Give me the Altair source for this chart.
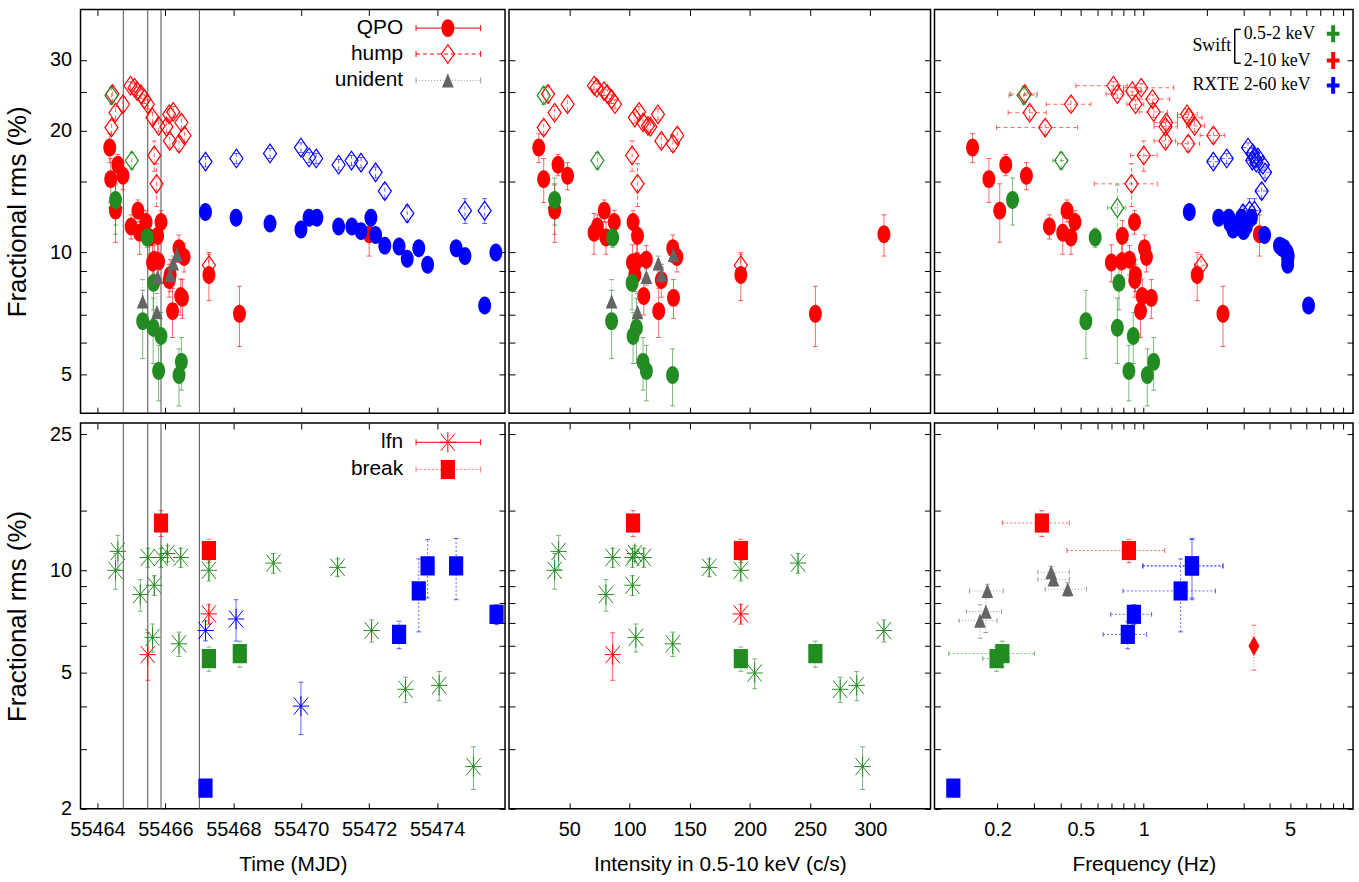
import json
import math
import altair as alt
import pandas as pd

# ===================== DATA =====================
# ---- Swift 2-10 keV : QPO ----
hard_qpo_mjd = [55464.36, 55464.39, 55464.60, 55464.75, 55464.53, 55464.99, 55465.19, 55465.24, 55465.43,
                55465.53, 55465.87, 55465.77, 55465.62, 55465.80, 55465.67, 55466.11, 55466.14, 55466.40,
                55466.55, 55466.21, 55466.50, 55466.45, 55467.28, 55468.18, 55472.00]
hard_qpo_cts = [24.7, 28.8, 40.7, 48.6, 37.9, 73.4, 79.1, 70.6, 87.4, 80.5, 103.0, 106.7, 102.5, 105.8,
                114.0, 126.5, 104.5, 136.0, 139.4, 124.3, 136.6, 111.9, 192.5, 254.4, 311.3]
hard_qpo_freq = [0.152, 0.182, 0.219, 0.275, 0.205, 0.354, 0.430, 0.410, 0.469, 0.449, 0.903, 0.790, 0.700,
                 0.784, 0.855, 0.906, 0.913, 1.008, 1.030, 0.965, 1.087, 0.983, 1.80, 2.39, 3.57]
hard_qpo_rms = [18.2, 15.2, 16.5, 15.5, 12.7, 11.6, 12.7, 11.2, 11.9, 10.9, 11.9, 11.0, 9.45, 9.5, 9.6,
                8.55, 8.8, 10.25, 9.75, 7.16, 7.72, 7.8, 8.8, 7.05, 11.1]
hard_qpo_err = [1.5, 1.9, 1.0, 1.2, 2.1, 0.8, 0.8, 1.3, 0.8, 1.0, 0.8, 1.0, 1.0, 1.0, 0.8, 0.8, 0.8, 0.8,
                0.8, 1.0, 0.85, 0.8, 1.2, 1.2, 1.3]

# ---- Swift 0.5-2 keV : QPO ----
soft_qpo_mjd = [55464.53, 55465.46, 55465.65, 55465.33, 55465.64, 55465.87, 55465.80, 55466.40, 55466.47]
soft_qpo_cts = [37.9, 86.1, 102.2, 85.2, 105.8, 103.0, 114.1, 135.8, 111.3]
soft_qpo_freq = [0.236, 0.586, 0.761, 0.529, 0.748, 0.891, 0.849, 1.04, 1.115]
soft_qpo_rms = [13.5, 10.9, 8.41, 6.76, 6.51, 6.21, 5.09, 4.97, 5.36]
soft_qpo_err = [1.8, 0.6, 1.2, 1.3, 1.2, 0.9, 0.8, 0.8, 0.8]

# ---- RXTE 2-60 keV : QPO ----
rxte_qpo_mjd = [55467.18, 55468.08, 55469.08, 55469.99, 55470.23, 55470.46, 55471.10, 55471.49, 55471.76,
                55472.05, 55472.19, 55472.46, 55472.88, 55473.12, 55473.46, 55473.72, 55474.56, 55474.82,
                55475.40, 55475.73]
rxte_qpo_freq = [1.65, 2.28, 2.58, 2.67, 2.93, 3.27, 3.09, 2.75, 3.00, 2.55, 3.78, 4.45, 4.55, 4.87, 4.70,
                 4.87, 4.60, 4.90, 6.13, 4.85]
rxte_qpo_rms = [12.6, 12.2, 11.8, 11.4, 12.2, 12.2, 11.6, 11.6, 11.3, 12.2, 11.05, 10.4, 10.35, 9.65, 10.25,
                9.33, 10.25, 9.8, 7.39, 10.0]
rxte_qpo_err = [0.3] * 20

# ---- Swift 2-10 keV : hump ----
hard_hump_mjd = [55464.41, 55464.53, 55464.44, 55464.75, 55464.97, 55465.09, 55465.17, 55465.28, 55465.38,
                 55465.48, 55465.62, 55465.80, 55466.03, 55466.11, 55466.23, 55466.47, 55466.13, 55466.40,
                 55466.56, 55465.67, 55465.74, 55467.28]
hard_hump_cts = [28.8, 37.9, 32.4, 48.6, 70.6, 72.9, 78.9, 81.6, 85.2, 88.0, 104.5, 115.4, 117.4, 123.7,
                 108.0, 111.3, 126.5, 136.1, 139.7, 102.2, 106.7, 192.5]
hard_hump_freq = [0.338, 0.285, 0.27, 0.449, 0.716, 0.972, 0.881, 0.748, 1.10, 0.913, 1.64, 1.75, 1.27,
                  1.61, 1.115, 1.28, 1.27, 1.63, 2.15, 1.00, 0.874, 1.88]
hard_hump_flo = [0.198, 0.225, 0.23, 0.342, 0.474, 0.80, 0.80, 0.66, 0.95, 0.83, 1.45, 1.60, 1.12, 1.45,
                 0.95, 1.12, 1.12, 1.45, 1.86, 0.865, 0.58, 1.75]
hard_hump_fhi = [0.483, 0.342, 0.31, 0.559, 0.834, 1.39, 0.97, 0.84, 1.33, 1.0, 1.90, 1.95, 1.45, 1.80,
                 1.30, 1.45, 1.42, 1.85, 2.44, 1.157, 1.16, 2.0]
hard_hump_rms = [20.4, 22.2, 24.7, 23.3, 25.9, 25.6, 25.1, 24.7, 24.0, 23.3, 21.6, 20.6, 20.5, 22.0, 22.3,
                 21.0, 18.9, 18.6, 19.5, 17.4, 14.8, 9.3]
hard_hump_err = [0.8, 0.8, 1.2, 0.9, 0.6, 0.6, 0.6, 0.6, 0.6, 0.6, 0.7, 0.7, 0.7, 0.7, 0.7, 0.8, 0.7, 0.8,
                 0.8, 1.5, 1.8, 0.6]

# ---- Swift 0.5-2 keV : hump ----
soft_hump_mjd = [55464.41, 55465.01, 55464.53]
soft_hump_cts = [28.8, 73.4, 37.9]
soft_hump_freq = [0.267, 0.403, 0.748]
soft_hump_flo = [0.227, 0.368, 0.67]
soft_hump_fhi = [0.306, 0.433, 0.82]
soft_hump_rms = [24.5, 16.9, 12.9]
soft_hump_err = [1.2, 0.8, 1.8]

# ---- RXTE 2-60 keV : hump ----
rxte_hump_mjd = [55467.18, 55468.09, 55469.08, 55469.99, 55470.23, 55470.44, 55471.10, 55471.48, 55471.76,
                 55472.19, 55472.46, 55473.12, 55474.82, 55475.40]
rxte_hump_freq = [2.15, 2.49, 3.32, 3.15, 3.51, 3.40, 3.71, 3.30, 3.45, 3.80, 3.66, 2.98, 3.38, 3.20]
rxte_hump_flo = [2.02, 2.34, 3.12, 2.96, 3.30, 3.20, 3.49, 3.10, 3.24, 3.57, 3.44, 2.80, 3.18, 3.01]
rxte_hump_fhi = [2.29, 2.65, 3.53, 3.35, 3.73, 3.61, 3.94, 3.51, 3.67, 4.04, 3.89, 3.17, 3.59, 3.40]
rxte_hump_rms = [16.8, 17.1, 17.6, 18.2, 17.2, 17.1, 16.5, 16.9, 16.7, 15.8, 14.2, 12.5, 12.7, 12.7]
rxte_hump_err = [0.5, 0.5, 0.5, 0.5, 0.5, 0.5, 0.5, 0.5, 0.5, 0.5, 0.6, 0.6, 0.9, 0.9]

# ---- unidentified features ----
unid_mjd = [55465.33, 55465.75, 55465.77, 55466.14, 55466.23, 55466.34]
unid_cts = [85.2, 106.7, 114.1, 126.7, 124.0, 136.6]
unid_freq = [0.176, 0.165, 0.179, 0.433, 0.370, 0.361]
unid_flo = [0.142, 0.131, 0.147, 0.338, 0.312, 0.312]
unid_fhi = [0.209, 0.199, 0.213, 0.533, 0.441, 0.441]
unid_rms = [7.57, 7.12, 8.7, 8.8, 9.4, 9.87]
unid_err = [1.0, 0.8, 0.4, 0.4, 0.4, 0.4]

# ---- low-frequency noise (lfn) ----
soft_lfn_mjd = [55464.53, 55464.60, 55465.26, 55465.48, 55465.67, 55465.87, 55466.06, 55466.45, 55465.62,
                55466.40, 55467.28, 55469.18, 55471.07, 55472.07, 55473.07, 55474.06, 55475.07, None]
soft_lfn_cts = [37.9, 41.2, 80.5, 86.1, 102.5, 102.5, 104.5, 111.9, 105.3, 136.0, 192.5, 240.0, 166.3,
                311.3, 275.0, 288.7, 293.6, 204.0]
soft_lfn_rms = [10.0, 11.36, 8.49, 10.9, 9.04, 10.9, 11.2, 10.9, 6.36, 6.09, 10.0, 10.5, 10.2, 6.66, 4.48,
                4.6, 2.66, 5.0]
soft_lfn_err = [1.2, 1.3, 0.9, 0.7, 0.6, 0.7, 0.6, 0.7, 0.6, 0.5, 0.7, 0.7, 0.6, 0.5, 0.38, 0.45, 0.38, 0.5]

hard_lfn_mjd = [55465.48, 55467.28]
hard_lfn_cts = [86.1, 192.5]
hard_lfn_rms = [5.66, 7.45]
hard_lfn_err = [0.9, 0.5]

rxte_lfn_mjd = [55467.18, 55468.08, 55469.99]
rxte_lfn_rms = [6.66, 7.2, 4.0]
rxte_lfn_err = [0.45, 1.0, 0.7]

# ---- break ----
soft_brk_mjd = [55467.28, 55468.19]
soft_brk_cts = [192.5, 254.4]
soft_brk_freq = [0.198, 0.211]
soft_brk_flo = [0.170, 0.117]
soft_brk_fhi = [0.227, 0.30]
soft_brk_rms = [5.51, 5.70]
soft_brk_err = [0.45, 0.5]

hard_brk_mjd = [55465.87, 55467.28]
hard_brk_cts = [103.0, 192.5]
hard_brk_freq = [0.326, 0.849]
hard_brk_flo = [0.211, 0.429]
hard_brk_fhi = [0.441, 1.26]
hard_brk_rms = [13.76, 11.43]
hard_brk_err = [1.2, 0.9]

rxte_brk_mjd = [55467.18, 55472.88, 55473.46, 55473.72, 55474.56, 55475.75]
rxte_brk_freq = [0.123, 0.839, 1.50, 1.70, 1.70, 0.897]
rxte_brk_flo = [None, 0.639, 0.795, 0.99, 0.99, 0.695]
rxte_brk_fhi = [None, 1.03, 2.2, 2.39, 2.39, 1.09]
rxte_brk_rms = [2.3, 6.49, 8.7, 10.3, 10.3, 7.43]
rxte_brk_err = [0.0, 0.6, 2.1, 2.0, 2.1, 0.5]

# ---- extra Swift 2-10 keV feature (frequency panel) ----
hard_extra_freq = [3.36]
hard_extra_rms = [6.0]
hard_extra_err = [0.9]

# vertical markers in the time panels
vline_mjd = [55464.76, 55465.48, 55465.87, 55467.0]

# axis ticks
time_ticks = [55464, 55466, 55468, 55470, 55472, 55474]
cts_ticks = [50, 100, 150, 200, 250, 300]
freq_ticks = [0.2, 0.3, 0.4, 0.5, 0.6, 0.7, 0.8, 0.9, 1, 2, 3, 4, 5, 6, 7, 8, 9]
freq_labels = [0.2, 0.5, 1, 5]
ytop_ticks = [5, 6, 7, 8, 9, 10, 15, 20, 25, 30]
ytop_labels = [5, 10, 20, 30]
ybot_ticks = [2, 3, 4, 5, 6, 7, 8, 9, 10, 15, 25]
ybot_labels = [2, 5, 10, 25]

# ===================== STYLE =====================
FONT = "Liberation Sans, Arial, sans-serif"
YFONT = "Liberation Sans, Arial, sans-serif"
SERIF = "Liberation Serif, Times New Roman, serif"

BANDS = ["hard", "soft", "rxte", "unid"]
BAND_COLORS = ["#ff0000", "#228b22", "#0000ff", "#646464"]
band_scale = alt.Scale(domain=BANDS, range=BAND_COLORS)
COL = dict(zip(BANDS, BAND_COLORS))


def _ellipse(rx, ry, n=28):
    pts = []
    for k in range(n):
        t = 2 * math.pi * k / n
        pts.append(f"{rx * math.cos(t):.3f},{ry * math.sin(t):.3f}")
    return "M" + "L".join(pts) + "Z"


ELLIPSE = _ellipse(0.72, 1.0)
DIAMOND = "M0,-1L0.7,0L0,1L-0.7,0Z"
FDIAMOND = "M0,-1L0.55,0L0,1L-0.55,0Z"
TRIANGLE = "M0,-1L0.82,1L-0.82,1Z"
RECT = "M-0.74,-1L0.74,-1L0.74,1L-0.74,1Z"
ASTER = "M0,-1L0,1M-0.8,0L0.8,0M-0.7,-0.85L0.7,0.85M-0.7,0.85L0.7,-0.85"
HCAP = "M-1,0L1,0"
VCAP = "M0,-1L0,1"
PLUS = "M-0.75,0L0.75,0M0,-1L0,1"

STYLE = {
    "hump": dict(shape=DIAMOND, filled=False, size=350, sw=1.2, dash=[4, 3]),
    "qpo": dict(shape=ELLIPSE, filled=True, size=324, sw=0, dash=None),
    "unid": dict(shape=TRIANGLE, filled=True, size=205, sw=0, dash=[1, 2]),
    "lfn": dict(shape=ASTER, filled=False, size=420, sw=1.0, dash=None),
    "break": dict(shape=RECT, filled=True, size=372, sw=0, dash=[2, 2]),
    "extra": dict(shape=FDIAMOND, filled=True, size=400, sw=0, dash=[1, 2]),
}

xs_time = alt.Scale(domain=[55463.5, 55476], nice=False, zero=False)
xs_cts = alt.Scale(domain=[0, 350], nice=False, zero=False)
xs_freq = alt.Scale(type="log", domain=[0.1, 10], nice=False)
ys_top = alt.Scale(type="log", domain=[4, 40], nice=False)
ys_bot = alt.Scale(type="log", domain=[2, 27], nice=False)


def rows(band, x, rms, err, xlo=None, xhi=None):
    out = []
    for i in range(len(rms)):
        if x[i] is None:
            continue
        r = {"x": x[i], "y": rms[i], "ylo": rms[i] - err[i], "yhi": rms[i] + err[i], "band": band}
        if xlo is not None and xlo[i] is not None:
            r["xlo"] = xlo[i]
            r["xhi"] = xhi[i]
        out.append(r)
    return out


def feat_layers(rws, feat, xs, ys):
    st = STYLE[feat]
    df = pd.DataFrame(rws)
    C = alt.Color("band:N", scale=band_scale, legend=None)

    def X(f):
        return alt.X(f"{f}:Q", scale=xs, axis=None)

    def Y(f):
        return alt.Y(f"{f}:Q", scale=ys, axis=None)

    rule_kw = dict(strokeWidth=1, opacity=0.6, clip=True)
    if st["dash"]:
        rule_kw["strokeDash"] = st["dash"]
    cap_kw = dict(filled=False, strokeWidth=1, opacity=0.6, clip=True)
    base = alt.Chart(df)
    out = [
        base.mark_rule(**rule_kw).encode(x=X("x"), y=Y("ylo"), y2=alt.Y2("yhi:Q"), color=C),
        base.mark_point(shape=HCAP, size=25, **cap_kw).encode(x=X("x"), y=Y("ylo"), color=C),
        base.mark_point(shape=HCAP, size=25, **cap_kw).encode(x=X("x"), y=Y("yhi"), color=C),
    ]
    if "xlo" in df.columns and df["xlo"].notna().any():
        bx = alt.Chart(df[df["xlo"].notna()])
        out += [
            bx.mark_rule(**rule_kw).encode(x=X("xlo"), x2=alt.X2("xhi:Q"), y=Y("y"), color=C),
            bx.mark_point(shape=VCAP, size=25, **cap_kw).encode(x=X("xlo"), y=Y("y"), color=C),
            bx.mark_point(shape=VCAP, size=25, **cap_kw).encode(x=X("xhi"), y=Y("y"), color=C),
        ]
    pk = dict(shape=st["shape"], size=st["size"], filled=st["filled"], opacity=1, clip=True)
    if not st["filled"]:
        pk["strokeWidth"] = st["sw"]
    out.append(base.mark_point(**pk).encode(x=X("x"), y=Y("y"), color=C))
    return out


def mk_axis(orient, values, fmt, labels=False, show=None, title=None, **kw):
    d = dict(orient=orient, values=values, format=fmt, tickSize=6, offset=-6, domain=False, grid=False,
             tickColor="black", tickWidth=1, labels=labels, labelOverlap=False, labelFlush=False,
             title=title)
    if labels and show is not None:
        d["labelExpr"] = "indexof(%s, datum.value) >= 0 ? datum.label : ''" % json.dumps(show)
    d.update(kw)
    return alt.Axis(**d)


ONE = alt.Data(values=[{"a": 1}])


def txt(s, x, y, size=21, font=FONT, align="right"):
    return alt.Chart(ONE).mark_text(text=s, align=align, baseline="middle", font=font, fontSize=size,
                                    color="black").encode(x=alt.value(x), y=alt.value(y))


def legend_entry(label, feat, color, y, line_color=None):
    st = STYLE[feat]
    lc = line_color or color
    rk = dict(color=lc, strokeWidth=1)
    if st["dash"]:
        rk["strokeDash"] = st["dash"]
    pk = dict(shape=st["shape"], size=st["size"], filled=st["filled"], color=color, opacity=1)
    if not st["filled"]:
        pk["strokeWidth"] = st["sw"]
    return [
        txt(label, 324.5, y),
        alt.Chart(ONE).mark_rule(**rk).encode(x=alt.value(337.5), x2=alt.value(402.5), y=alt.value(y)),
        alt.Chart(ONE).mark_rule(color=lc, strokeWidth=1).encode(x=alt.value(337.5), y=alt.value(y - 3),
                                                                  y2=alt.value(y + 3)),
        alt.Chart(ONE).mark_rule(color=lc, strokeWidth=1).encode(x=alt.value(402.5), y=alt.value(y - 3),
                                                                  y2=alt.value(y + 3)),
        alt.Chart(ONE).mark_point(**pk).encode(x=alt.value(369.5), y=alt.value(y)),
    ]


def panel(groups, xs, ys, width, height, ax_b, ax_l, ax_t, ax_r, extra=(), vlines=False):
    layers = []
    if vlines:
        vdf = pd.DataFrame({"v": vline_mjd})
        layers.append(alt.Chart(vdf).mark_rule(color="#505050", strokeWidth=1).encode(
            x=alt.X("v:Q", scale=xs, axis=None)))
    allr = []
    for feat, rws in groups:
        allr += rws
        layers += feat_layers(rws, feat, xs, ys)
    cdf = pd.DataFrame(allr)[["x", "y"]]
    layers.append(alt.Chart(cdf).mark_point(opacity=0, size=1).encode(
        x=alt.X("x:Q", scale=xs, axis=ax_b), y=alt.Y("y:Q", scale=ys, axis=ax_l)))
    layers.append(alt.Chart(cdf).mark_point(opacity=0, size=1).encode(
        x=alt.X("x:Q", scale=xs, axis=ax_t), y=alt.Y("y:Q", scale=ys, axis=ax_r)))
    layers += list(extra)
    return alt.layer(*layers).properties(width=width, height=height).resolve_axis(
        x="independent", y="independent")


# ---------------- axes ----------------
def xaxes(ticks, fmt, bottom_labels, title=None, show=None):
    b = mk_axis("bottom", ticks, fmt, labels=bottom_labels, show=show, title=title,
                labelPadding=11, titlePadding=14)
    t = mk_axis("top", ticks, fmt)
    return b, t


def yaxes(ticks, show, left_labels):
    l = mk_axis("left", ticks, "~g", labels=left_labels, show=show,
                title="Fractional rms (%)" if left_labels else None,
                labelPadding=9, titlePadding=19, titleFont=YFONT, titleFontSize=26)
    r = mk_axis("right", ticks, "~g")
    return l, r


W = [427, 424, 421]
HT, HB = 406, 388

# ---------------- top row ----------------
top_time_groups = [
    ("hump", rows("hard", hard_hump_mjd, hard_hump_rms, hard_hump_err)
     + rows("soft", soft_hump_mjd, soft_hump_rms, soft_hump_err)
     + rows("rxte", rxte_hump_mjd, rxte_hump_rms, rxte_hump_err)),
    ("qpo", rows("hard", hard_qpo_mjd, hard_qpo_rms, hard_qpo_err)
     + rows("soft", soft_qpo_mjd, soft_qpo_rms, soft_qpo_err)
     + rows("rxte", rxte_qpo_mjd, rxte_qpo_rms, rxte_qpo_err)),
    ("unid", rows("unid", unid_mjd, unid_rms, unid_err)),
]
top_cts_groups = [
    ("hump", rows("hard", hard_hump_cts, hard_hump_rms, hard_hump_err)
     + rows("soft", soft_hump_cts, soft_hump_rms, soft_hump_err)),
    ("qpo", rows("hard", hard_qpo_cts, hard_qpo_rms, hard_qpo_err)
     + rows("soft", soft_qpo_cts, soft_qpo_rms, soft_qpo_err)),
    ("unid", rows("unid", unid_cts, unid_rms, unid_err)),
]
top_freq_groups = [
    ("hump", rows("hard", hard_hump_freq, hard_hump_rms, hard_hump_err, hard_hump_flo, hard_hump_fhi)
     + rows("soft", soft_hump_freq, soft_hump_rms, soft_hump_err, soft_hump_flo, soft_hump_fhi)
     + rows("rxte", rxte_hump_freq, rxte_hump_rms, rxte_hump_err, rxte_hump_flo, rxte_hump_fhi)),
    ("qpo", rows("hard", hard_qpo_freq, hard_qpo_rms, hard_qpo_err)
     + rows("soft", soft_qpo_freq, soft_qpo_rms, soft_qpo_err)
     + rows("rxte", rxte_qpo_freq, rxte_qpo_rms, rxte_qpo_err)),
]

legend_top = (legend_entry("QPO", "qpo", COL["hard"], 18.7)
              + legend_entry("hump", "hump", COL["hard"], 44.7)
              + legend_entry("unident", "unid", COL["unid"], 71.3, line_color="#9a9a9a"))
legend_bot = (legend_entry("lfn", "lfn", COL["hard"], 19.3)
              + legend_entry("break", "break", COL["hard"], 46.7, line_color="#ff8080"))

plus_kw = dict(shape=PLUS, size=289, filled=False, strokeWidth=4, opacity=1)
legend_band = [
    txt("Swift", 259.4, 37, size=18, font=SERIF, align="left"),
    alt.Chart(ONE).mark_rule(color="black", strokeWidth=1.5).encode(x=alt.value(302), y=alt.value(20),
                                                                    y2=alt.value(54)),
    alt.Chart(ONE).mark_rule(color="black", strokeWidth=1.5).encode(x=alt.value(302), x2=alt.value(308),
                                                                    y=alt.value(20)),
    alt.Chart(ONE).mark_rule(color="black", strokeWidth=1.5).encode(x=alt.value(302), x2=alt.value(308),
                                                                    y=alt.value(54)),
    txt("0.5-2 keV", 311, 24.3, size=18, font=SERIF, align="left"),
    txt("2-10 keV", 311, 51.3, size=18, font=SERIF, align="left"),
    txt("RXTE", 259.4, 76.3, size=18, font=SERIF, align="left"),
    txt("2-60 keV", 311, 76.3, size=18, font=SERIF, align="left"),
    alt.Chart(ONE).mark_point(color=COL["soft"], **plus_kw).encode(x=alt.value(401), y=alt.value(24.3)),
    alt.Chart(ONE).mark_point(color=COL["hard"], **plus_kw).encode(x=alt.value(401), y=alt.value(51.3)),
    alt.Chart(ONE).mark_point(color=COL["rxte"], **plus_kw).encode(x=alt.value(401), y=alt.value(76.3)),
]

yl_t, yr_t = yaxes(ytop_ticks, ytop_labels, True)
yl_tn, yr_tn = yaxes(ytop_ticks, ytop_labels, False)
yl_b, yr_b = yaxes(ybot_ticks, ybot_labels, True)
yl_bn, yr_bn = yaxes(ybot_ticks, ybot_labels, False)

xb_time_t, xt_time = xaxes(time_ticks, "d", False)
xb_cts_t, xt_cts = xaxes(cts_ticks, "d", False)
xb_freq_t, xt_freq = xaxes(freq_ticks, "~g", False)
xb_time_b, _ = xaxes(time_ticks, "d", True, title="Time (MJD)")
xb_cts_b, _ = xaxes(cts_ticks, "d", True, title="Intensity in 0.5-10 keV (c/s)")
xb_freq_b, _ = xaxes(freq_ticks, "~g", True, title="Frequency (Hz)", show=freq_labels)

p_tt = panel(top_time_groups, xs_time, ys_top, W[0], HT, xb_time_t, yl_t, xt_time, yr_t,
             extra=legend_top, vlines=True)
p_tc = panel(top_cts_groups, xs_cts, ys_top, W[1], HT, xb_cts_t, yl_tn, xt_cts, yr_tn)
p_tf = panel(top_freq_groups, xs_freq, ys_top, W[2], HT, xb_freq_t, yl_tn, xt_freq, yr_tn,
             extra=legend_band)

# ---------------- bottom row ----------------
bot_time_groups = [
    ("lfn", rows("soft", soft_lfn_mjd, soft_lfn_rms, soft_lfn_err)
     + rows("hard", hard_lfn_mjd, hard_lfn_rms, hard_lfn_err)
     + rows("rxte", rxte_lfn_mjd, rxte_lfn_rms, rxte_lfn_err)),
    ("break", rows("soft", soft_brk_mjd, soft_brk_rms, soft_brk_err)
     + rows("hard", hard_brk_mjd, hard_brk_rms, hard_brk_err)
     + rows("rxte", rxte_brk_mjd, rxte_brk_rms, rxte_brk_err)),
]
bot_cts_groups = [
    ("lfn", rows("soft", soft_lfn_cts, soft_lfn_rms, soft_lfn_err)
     + rows("hard", hard_lfn_cts, hard_lfn_rms, hard_lfn_err)),
    ("break", rows("soft", soft_brk_cts, soft_brk_rms, soft_brk_err)
     + rows("hard", hard_brk_cts, hard_brk_rms, hard_brk_err)),
]
bot_freq_groups = [
    ("unid", rows("unid", unid_freq, unid_rms, unid_err, unid_flo, unid_fhi)),
    ("break", rows("soft", soft_brk_freq, soft_brk_rms, soft_brk_err, soft_brk_flo, soft_brk_fhi)
     + rows("hard", hard_brk_freq, hard_brk_rms, hard_brk_err, hard_brk_flo, hard_brk_fhi)
     + rows("rxte", rxte_brk_freq, rxte_brk_rms, rxte_brk_err, rxte_brk_flo, rxte_brk_fhi)),
    ("extra", rows("hard", hard_extra_freq, hard_extra_rms, hard_extra_err)),
]

p_bt = panel(bot_time_groups, xs_time, ys_bot, W[0], HB, xb_time_b, yl_b, xt_time, yr_b,
             extra=legend_bot, vlines=True)
p_bc = panel(bot_cts_groups, xs_cts, ys_bot, W[1], HB, xb_cts_b, yl_bn, xt_cts, yr_bn)
p_bf = panel(bot_freq_groups, xs_freq, ys_bot, W[2], HB, xb_freq_b, yl_bn, xt_freq, yr_bn)

top_row = alt.hconcat(p_tt, p_tc, p_tf, spacing=0)
bot_row = alt.hconcat(p_bt, p_bc, p_bf, spacing=0)

chart = (
    alt.vconcat(top_row, bot_row, spacing=6)
    .properties(padding={"left": 4, "top": 5, "right": 4, "bottom": 2}, background="white")
    .configure_view(stroke="black", strokeWidth=1.5)
    .configure_axis(labelFont=FONT, labelFontSize=20, labelColor="black", titleFont=FONT,
                    titleFontSize=21, titleColor="black", titleFontWeight="normal")
)

chart.save("out.html", embed_options={"renderer": "svg", "actions": False})
